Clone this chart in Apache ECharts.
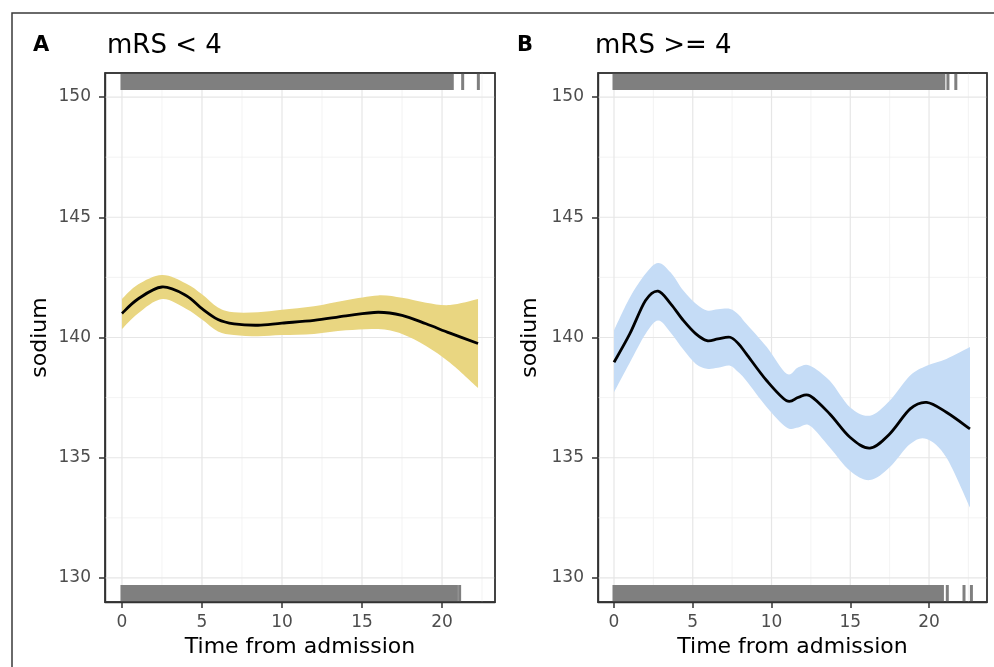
<!DOCTYPE html>
<html><head><meta charset="utf-8">
<script src="https://cdn.jsdelivr.net/npm/echarts@6/dist/echarts.min.js"></script>
<style>html,body{margin:0;padding:0;background:#fff;overflow:hidden}#c{width:994px;height:667px}</style>
</head><body><div id="c"></div>
<script>
// ---------- data ----------
const panelLetters = ['A', 'B'];
const panelTitles = ['mRS < 4', 'mRS >= 4'];
const xTitle = 'Time from admission';
const yTitle = 'sodium';
const xTickValues = [0, 5, 10, 15, 20];
const xMinorValues = [2.5, 7.5, 12.5, 17.5, 22.5];
const yTickValues = [130, 135, 140, 145, 150];
const yMinorValues = [132.5, 137.5, 142.5, 147.5];

const timeA  = [0, 1, 2.5, 4, 5, 6, 7, 8.5, 10, 12, 14, 16, 17.5, 19, 20.5, 22.25];
const fitA   = [141.0, 141.6, 142.1, 141.75, 141.2, 140.75, 140.57, 140.51, 140.6, 140.71, 140.9, 141.05, 140.92, 140.57, 140.18, 139.75];
const upperA = [141.6, 142.2, 142.6, 142.25, 141.8, 141.25, 141.05, 141.05, 141.15, 141.3, 141.55, 141.75, 141.65, 141.45, 141.35, 141.6];
const lowerA = [140.35, 141.0, 141.6, 141.2, 140.75, 140.25, 140.1, 140.05, 140.1, 140.15, 140.3, 140.35, 140.15, 139.65, 138.95, 137.9];

const timeB  = [0, 1, 2, 2.8, 3.6, 4.4, 5.2, 5.9, 6.6, 7.37, 7.9, 8.4, 9.7, 10.96, 11.7, 12.44, 13.7, 14.98, 16.25, 17.5, 18.8, 19.85, 21.1, 22.6];
const fitB   = [138.97, 140.15, 141.54, 141.93, 141.4, 140.71, 140.15, 139.87, 139.94, 140.01, 139.74, 139.32, 138.2, 137.37, 137.51, 137.58, 136.82, 135.85, 135.4, 135.99, 137.03, 137.3, 136.89, 136.2];
const upperB = [140.29, 141.65, 142.65, 143.1, 142.7, 141.95, 141.4, 141.12, 141.17, 141.19, 140.96, 140.57, 139.6, 138.49, 138.76, 138.83, 138.2, 137.1, 136.75, 137.37, 138.42, 138.83, 139.11, 139.6];
const lowerB = [137.72, 138.95, 140.15, 140.71, 140.2, 139.5, 138.9, 138.7, 138.74, 138.83, 138.55, 138.2, 137.1, 136.26, 136.26, 136.33, 135.43, 134.46, 134.07, 134.6, 135.57, 135.78, 135.01, 132.93];

// rug marks: [start, end] of the dense band, plus isolated ticks
const rugTopBandA = [0, 20.64];
const rugTopTicksA = [21.29, 22.27];
const rugBottomBandA = [0, 20.9];
const rugBottomTicksA = [21.1];
const rugTopBandB = [0, 20.94];
const rugTopTicksB = [21.2, 21.7];
const rugBottomBandB = [0, 20.85];
const rugBottomTicksB = [21.16, 22.22, 22.69];

// ---------- layout / style ----------
const F = '"DejaVu Sans", sans-serif';
const yMin = 129, yMax = 151;
const xMins = [-1.06, -1.016];
const xMaxs = [23.31, 23.68];
const grids = [
  {left: 105, top: 73, width: 390, height: 529},
  {left: 598, top: 73, width: 389, height: 529}
];
const ribbonColors = ['#e9d681', '#c5dcf6'];
const rugColor = '#7f7f7f';
const borderColor = '#333';

function catmull(pts) {
  let d = '';
  for (let i = 0; i < pts.length - 1; i++) {
    const p0 = pts[i - 1] || pts[i], p1 = pts[i], p2 = pts[i + 1], p3 = pts[i + 2] || pts[i + 1];
    const c1 = [p1[0] + (p2[0] - p0[0]) / 6, p1[1] + (p2[1] - p0[1]) / 6];
    const c2 = [p2[0] - (p3[0] - p1[0]) / 6, p2[1] - (p3[1] - p1[1]) / 6];
    d += ' C' + c1[0] + ',' + c1[1] + ' ' + c2[0] + ',' + c2[1] + ' ' + p2[0] + ',' + p2[1];
  }
  return d;
}

function gridlineSeries(idx) {
  const data = [];
  xMinorValues.forEach(v => data.push([v, 0, 0]));
  yMinorValues.forEach(v => data.push([v, 1, 0]));
  xTickValues.forEach(v => data.push([v, 0, 1]));
  yTickValues.forEach(v => data.push([v, 1, 1]));
  return {
    type: 'custom', xAxisIndex: idx, yAxisIndex: idx, z: 1, silent: true,
    data: data,
    renderItem: function (params, api) {
      const v = api.value(0), horiz = api.value(1) === 1, major = api.value(2) === 1;
      let p1, p2;
      if (horiz) { p1 = api.coord([xMins[idx], v]); p2 = api.coord([xMaxs[idx], v]); }
      else { p1 = api.coord([v, yMin]); p2 = api.coord([v, yMax]); }
      return {
        type: 'line',
        shape: {x1: p1[0], y1: p1[1], x2: p2[0], y2: p2[1]},
        style: {stroke: major ? '#e6e6e6' : '#f0f0f0', lineWidth: major ? 1.2 : 0.8}
      };
    }
  };
}

function ribbonSeries(idx, times, upper, lower) {
  return {
    type: 'custom', xAxisIndex: idx, yAxisIndex: idx, z: 2, silent: true,
    data: times.map((t, i) => [t, upper[i], lower[i]]),
    renderItem: function (params, api) {
      if (params.dataIndex !== 0) return null;
      const up = times.map((t, i) => api.coord([t, upper[i]]));
      const lo = times.map((t, i) => api.coord([t, lower[i]])).reverse();
      const d = 'M' + up[0][0] + ',' + up[0][1] + catmull(up) +
        ' L' + lo[0][0] + ',' + lo[0][1] + catmull(lo) + ' Z';
      return {type: 'path', shape: {pathData: d}, style: {fill: ribbonColors[idx]}};
    }
  };
}

function fitSeries(idx, times, fit) {
  return {
    type: 'custom', xAxisIndex: idx, yAxisIndex: idx, z: 4, silent: true,
    data: times.map((t, i) => [t, fit[i]]),
    renderItem: function (params, api) {
      if (params.dataIndex !== 0) return null;
      const pts = times.map((t, i) => api.coord([t, fit[i]]));
      const d = 'M' + pts[0][0] + ',' + pts[0][1] + catmull(pts);
      return {type: 'path', shape: {pathData: d}, style: {fill: null, stroke: '#000', lineWidth: 2.8, lineJoin: 'round'}};
    }
  };
}

function rugSeries(idx, topBand, topTicks, bottomBand, bottomTicks) {
  const data = [];
  data.push([topBand[0], topBand[1], 1]);
  topTicks.forEach(v => data.push([v, v, 1]));
  data.push([bottomBand[0], bottomBand[1], 0]);
  bottomTicks.forEach(v => data.push([v, v, 0]));
  return {
    type: 'custom', xAxisIndex: idx, yAxisIndex: idx, z: 3, silent: true,
    data: data,
    renderItem: function (params, api) {
      const top = api.value(2) === 1;
      const a = api.coord([api.value(0), top ? yMax : yMin]);
      const b = api.coord([api.value(1), top ? yMax : yMin]);
      const h = 17;
      return {
        type: 'rect',
        shape: {x: a[0] - 1.5, y: top ? a[1] : a[1] - h, width: b[0] - a[0] + 3, height: h},
        style: {fill: rugColor}
      };
    }
  };
}

// panel border drawn above all marks (as in ggplot theme_bw)
function borderSeries(idx) {
  return {
    type: 'custom', xAxisIndex: idx, yAxisIndex: idx, z: 10, silent: true,
    data: [[xMins[idx], yMin]],
    renderItem: function (params, api) {
      const a = api.coord([xMins[idx], yMax]);
      const b = api.coord([xMaxs[idx], yMin]);
      return {
        type: 'rect',
        shape: {x: a[0], y: a[1], width: b[0] - a[0], height: b[1] - a[1]},
        style: {fill: null, stroke: borderColor, lineWidth: 1.4}
      };
    }
  };
}

const chart = echarts.init(document.getElementById('c'), null, {renderer: 'canvas'});
chart.setOption({
  backgroundColor: '#fff',
  animation: false,
  grid: grids.map(g => Object.assign({show: true, borderColor: borderColor, borderWidth: 1.4, backgroundColor: '#fff'}, g)),
  xAxis: [0, 1].map(i => ({
    gridIndex: i, type: 'value', min: xMins[i], max: xMaxs[i],
    axisLine: {show: true, onZero: false, lineStyle: {color: borderColor, width: 1.4}},
    axisTick: {show: true, inside: false, customValues: xTickValues, length: 6, lineStyle: {color: borderColor, width: 1.5}},
    axisLabel: {customValues: xTickValues, color: '#4d4d4d', fontSize: 17, fontFamily: F, margin: 12},
    splitLine: {show: false},
    name: xTitle, nameLocation: 'middle', nameGap: 44,
    nameTextStyle: {fontSize: 22, color: '#000', fontFamily: F, verticalAlign: 'middle'}
  })),
  yAxis: [0, 1].map(i => ({
    gridIndex: i, type: 'value', min: yMin, max: yMax,
    axisLine: {show: true, onZero: false, lineStyle: {color: borderColor, width: 1.4}},
    axisTick: {show: true, inside: false, customValues: yTickValues, length: 6, lineStyle: {color: borderColor, width: 1.5}},
    axisLabel: {customValues: yTickValues, color: '#4d4d4d', fontSize: 17, fontFamily: F, margin: 14},
    splitLine: {show: false},
    name: yTitle, nameLocation: 'middle', nameRotate: 90, nameGap: i ? 68 : 65,
    nameTextStyle: {fontSize: 22, color: '#000', fontFamily: F, verticalAlign: 'middle'}
  })),
  graphic: [
    {type: 'polyline', shape: {points: [[12, 667], [12, 13], [994, 13]]}, style: {stroke: '#3a3a3a', lineWidth: 1.5, fill: null}},
    {type: 'text', x: 33, y: 46, style: {text: panelLetters[0], fontSize: 21, fontWeight: 'bold', fontFamily: F, fill: '#000', verticalAlign: 'middle'}},
    {type: 'text', x: 107, y: 46, style: {text: panelTitles[0], fontSize: 26, fontFamily: F, fill: '#000', verticalAlign: 'middle'}},
    {type: 'text', x: 517, y: 46, style: {text: panelLetters[1], fontSize: 21, fontWeight: 'bold', fontFamily: F, fill: '#000', verticalAlign: 'middle'}},
    {type: 'text', x: 595, y: 46, style: {text: panelTitles[1], fontSize: 26, fontFamily: F, fill: '#000', verticalAlign: 'middle'}}
  ],
  series: [
    gridlineSeries(0), gridlineSeries(1),
    ribbonSeries(0, timeA, upperA, lowerA),
    ribbonSeries(1, timeB, upperB, lowerB),
    rugSeries(0, rugTopBandA, rugTopTicksA, rugBottomBandA, rugBottomTicksA),
    rugSeries(1, rugTopBandB, rugTopTicksB, rugBottomBandB, rugBottomTicksB),
    fitSeries(0, timeA, fitA),
    fitSeries(1, timeB, fitB),
    borderSeries(0), borderSeries(1)
  ]
});
</script>
</body></html>
